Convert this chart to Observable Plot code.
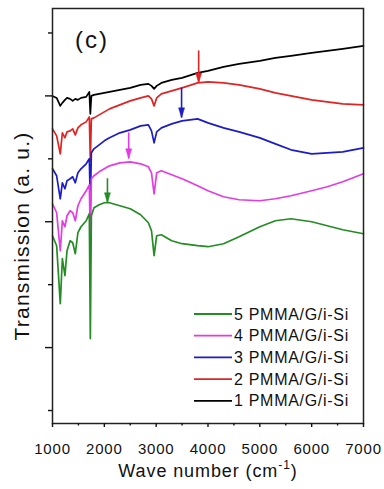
<!DOCTYPE html>
<html><head><meta charset="utf-8">
<script src="https://cdn.jsdelivr.net/npm/d3@7"></script>
<script src="https://cdn.jsdelivr.net/npm/@observablehq/plot@0.6"></script>
<style>
html,body{margin:0;padding:0;background:#fff;}
#chart{position:relative;width:384px;height:489px;}
</style>
</head><body><div id="chart"></div>
<script>
// Wave numbers (cm^-1), shared by all spectra
const waves = [1000,1080,1150,1190,1240,1280,1340,1390,1440,1490,1550,1650,1710,1730,1750,1800,1900,2000,2100,2300,2500,2700,2850,2910,2960,3010,3100,3300,3500,3800,4000,4300,4600,5000,5300,5600,6000,6300,6600,7000];
// Transmission (a. u., offset spectra)
const t1 = [315,313,305,308,311,313,312,310,312,311,313,314,319,297,315,316,317,318,319,321,323,326,327,325,322,325,328,331,333,338,340,344,347,350,353,355,358,360,362,365];
const t2 = [282,275,257,278,273,279,280,282,276,283,286,289,294,250,292,293,296,299,302,306,310,313,315,312,305,313,317,320,323,328,329,328,326,322,318,315,311,309,307,306];
const t3 = [242,235,212,228,222,230,232,234,228,238,242,247,252,205,258,262,266,270,273,278,281,285,286,280,268,279,283,287,290,292,288,283,279,273,267,261,257,258,259,263];
const t4 = [207,198,160,190,184,195,200,198,190,205,212,220,226,170,232,235,239,242,245,248,249,247,244,238,217,238,240,236,232,225,220,214,211,210,212,215,220,224,229,237];
const t5 = [175,165,107,152,135,160,170,168,157,178,184,190,197,72,195,203,206,208,208,205,202,196,188,180,155,175,176,170,167,165,164,167,174,184,190,192,189,185,181,177];
const seriesNames = ["1 PMMA/G/i-Si","2 PMMA/G/i-Si","3 PMMA/G/i-Si","4 PMMA/G/i-Si","5 PMMA/G/i-Si"];
const seriesColors = ["#000000","#e02424","#1c1cc8","#e23ce2","#238c23"];
const seriesValues = [t1,t2,t3,t4,t5];
// Arrows marking maxima
const arrowWaves = [3820,3490,2470,2060];
const arrowTops = [360,323,278,232];
const arrowTips = [328,293,252,208];
const arrowColors = ["#e02424","#1c1cc8","#e23ce2","#238c23"];
// Axis ticks
const xMajor = [1000,2000,3000,4000,5000,6000,7000];
const xMinor = [1500,2500,3500,4500,5500,6500];
const yMajor = [63,189,315];
const yMinor = [0,126,252,378];

const spectra = seriesNames.map((name,i)=>waves.map((w,j)=>({w, t: seriesValues[i][j], name, color: seriesColors[i]})));
const arrows = arrowWaves.map((w,i)=>({w, top: arrowTops[i], tip: arrowTips[i], color: arrowColors[i]}));

const headSymbol = {draw(ctx){ ctx.moveTo(-3,-10); ctx.lineTo(3,-10); ctx.lineTo(0,0); ctx.closePath(); }};

const font = "'Liberation Sans', Arial, Helvetica, sans-serif";
const plot = Plot.plot({
  width: 384, height: 489,
  marginLeft: 52, marginRight: 21, marginTop: 8, marginBottom: 66,
  style: {fontFamily: font, fontSize: "15px", color: "#111", background: "#fff"},
  x: {domain: [1000,7000]},
  y: {domain: [-13,402.5]},
  color: {type: "identity"},
  marks: [
    ...spectra.map(d => Plot.line(d, {x:"w", y:"t", stroke: d[0].color, strokeWidth: 1.7})),
    Plot.ruleX(arrows, {x:"w", y1:"top", y2:"tip", stroke:"color", strokeWidth:1.6}),
    Plot.dot(arrows, {x:"w", y:"tip", symbol: headSymbol, fill:"color", stroke:"color", strokeWidth:0.5, r:4}),
    Plot.frame({stroke:"#222", strokeWidth:1.5}),
    Plot.axisX({ticks: xMajor, tickSize: 4, tickPadding: 16, tickFormat: d => String(d), label: null, strokeWidth: 1.4, fontSize: 15}),
    Plot.axisX({ticks: xMinor, tickSize: 2.5, tickFormat: () => "", label: null, strokeWidth: 1.4}),
    Plot.axisY({ticks: yMajor, tickSize: 7, tickFormat: () => "", label: null, strokeWidth: 1.4}),
    Plot.axisY({ticks: yMinor, tickSize: 4, tickFormat: () => "", label: null, strokeWidth: 1.4})
  ]
});
document.getElementById("chart").appendChild(plot);

const svg = d3.select(plot);
svg.selectAll("g[aria-label='x-axis tick label'] text").attr("letter-spacing","0.8px");

// Panel label
svg.append("text").attr("x",75).attr("y",48).attr("text-anchor","start").attr("font-size",24).attr("letter-spacing","2px")
  .attr("font-family",font).attr("fill","#111").text("(c)");
// Y label
svg.append("text").attr("transform","translate(29,236) rotate(-90)").attr("text-anchor","middle")
  .attr("font-size",21).attr("letter-spacing","1.2px").attr("font-family",font).attr("fill","#111")
  .text("Transmission (a. u.)");
// X label with superscript
const xl = svg.append("text").attr("x",208).attr("y",477).attr("text-anchor","middle")
  .attr("font-size",18).attr("letter-spacing","0.9px").attr("font-family",font).attr("fill","#111");
xl.append("tspan").text("Wave number (cm");
xl.append("tspan").attr("font-size",12).attr("dy",-8).text("-1");
xl.append("tspan").attr("dy",8).text(")");
// Legend (top to bottom: 5..1)
const legendOrder = [4,3,2,1,0];
const lg = svg.append("g");
legendOrder.forEach((si,k)=>{
  const y = 314 + k*21.7;
  lg.append("line").attr("x1",194).attr("x2",232).attr("y1",y).attr("y2",y)
    .attr("stroke",seriesColors[si]).attr("stroke-width",1.8);
  lg.append("text").attr("x",234).attr("y",y+5.5).attr("text-anchor","start").attr("font-size",16).attr("letter-spacing","0.7px")
    .attr("font-family",font).attr("fill","#111").text(seriesNames[si]);
});
</script>
</body></html>
